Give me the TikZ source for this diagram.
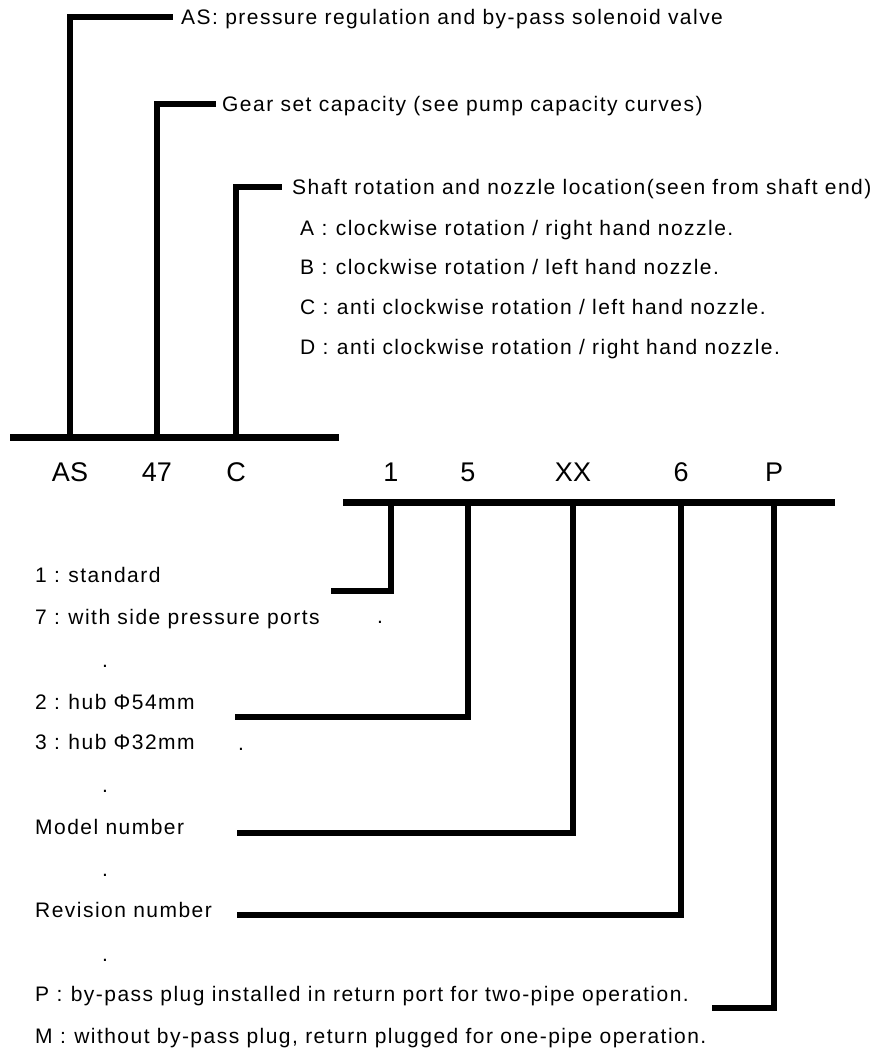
\documentclass[tikz,border=0pt]{standalone}
\usepackage{fontspec}
\setmainfont{Liberation Sans}
\newfontfamily\spacedfont[LetterSpace=7]{Liberation Sans}
\usepackage{tikz}
\usetikzlibrary{positioning,calc}
\newcommand{\wcolon}{\hspace{0.35em}:\hspace{0.4em}}

\begin{document}
\begin{tikzpicture}[x=1pt, y=-1pt,
  bar/.style={line width=7pt, line cap=rect},
  lead/.style={line width=6pt},
  desc/.style={anchor=west, inner sep=0pt, text height=17pt, text depth=2pt,
               font=\spacedfont\fontsize{21}{25}\selectfont},
  code/.style={inner sep=0pt, font=\fontsize{27}{30}\selectfont}]
\useasboundingbox (0,0) rectangle (882,1049);
%% the two code bars
\coordinate (tb0) at (13,437);   \coordinate (tb1) at (335,437);
\coordinate (bb0) at (346,502);  \coordinate (bb1) at (831,502);
\draw[bar] (tb0) -- (tb1);
\draw[bar] (bb0) -- (bb1);
%% code letters between the bars
\foreach \n/\x/\t in {as/70/AS, n47/157/47, cc/236/C, one/391/1, five/468/5, xx/573/XX, six/681/6, pp/774/P}
  \node[code] (\n) at (\x,472) {\t};
%% upper descriptions
\node[desc] (asdesc) at (181,17) {AS: pressure regulation and by-pass solenoid valve};
\node[desc] (gear) at (222,104) {Gear set capacity (see pump capacity curves)};
\node[desc] (shaft) at (292,187) {Shaft rotation and nozzle location(seen from shaft end)};
\node[desc] (ra) at (300,228) {A\wcolon clockwise rotation / right hand nozzle.};
\node[desc] (rb) at (300,267) {B\wcolon clockwise rotation / left hand nozzle.};
\node[desc] (rc) at (300,307) {C\wcolon anti clockwise rotation / left hand nozzle.};
\node[desc] (rd) at (300,347) {D\wcolon anti clockwise rotation / right hand nozzle.};
\draw[lead] (as |- tb0) |- ([xshift=-8pt]asdesc.west);
\draw[lead] (n47 |- tb0) |- ([xshift=-6pt]gear.west);
\draw[lead] (cc |- tb0) |- ([xshift=-10pt]shaft.west);
%% lower descriptions
\node[desc] (std) at (35,575) {1\wcolon standard};
\node[desc] (side) at (35,617) {7\wcolon with side pressure ports};
\node[desc] (hub54) at (35,702) {2\wcolon hub Φ54mm};
\node[desc] (hub32) at (35,742) {3\wcolon hub Φ32mm};
\node[desc] (model) at (35,827) {Model number};
\node[desc] (rev) at (35,910) {Revision number};
\node[desc] (plug) at (35,994) {P\wcolon by-pass plug installed in return port for two-pipe operation.};
\node[desc] (noplug) at (35,1036) {M\wcolon without by-pass plug, return plugged for one-pipe operation.};
%% stray dots
\foreach \x/\y in {380/622, 105/666, 241/749, 105/791, 105/875, 105/960}
  \node[inner sep=0pt, font=\fontsize{21}{25}\selectfont] at (\x,\y) {.};
%% free ends of the lower leads
\coordinate (e1) at (331,591);
\coordinate (e5) at (235,717);
\coordinate (exx) at (237,833);
\coordinate (e6) at (237,915);
\coordinate (ep) at (712,1008);
\draw[lead] (one |- bb0) |- (e1);
\draw[lead] (five |- bb0) |- (e5);
\draw[lead] (xx |- bb0) |- (exx);
\draw[lead] (six |- bb0) |- (e6);
\draw[lead] (pp |- bb0) |- (ep);
\end{tikzpicture}
\end{document}
